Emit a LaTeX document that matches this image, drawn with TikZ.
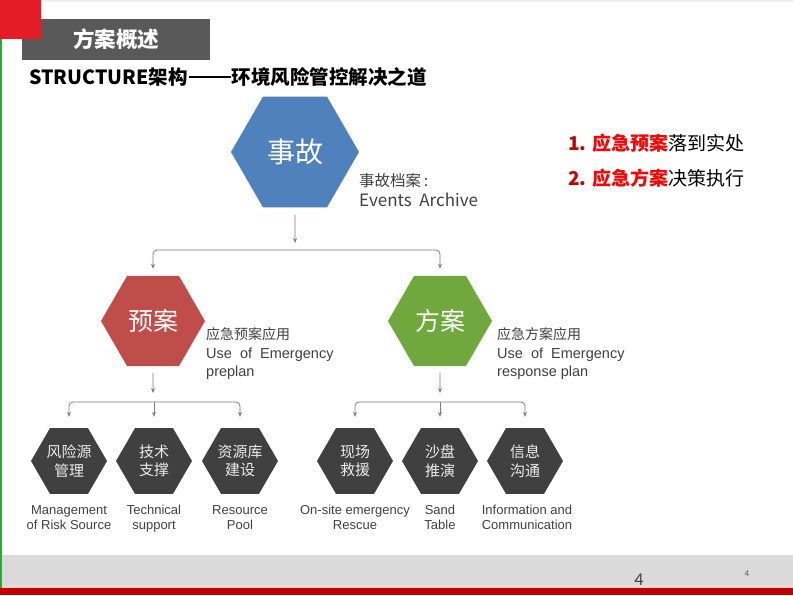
\documentclass[tikz,border=0pt]{standalone}
\usepackage{fontspec}
\setmainfont{Noto Sans CJK SC}
\newfontfamily\arial{Liberation Sans}
\newfontfamily\calibri{Carlito}
\usetikzlibrary{shapes.geometric,arrows.meta,calc}
\definecolor{hexblue}{HTML}{4F81BD}
\definecolor{hexred}{HTML}{BF4E4B}
\definecolor{hexgreen}{HTML}{70A83D}
\definecolor{hexgray}{HTML}{404040}
\definecolor{titlegray}{HTML}{595959}
\definecolor{slidered}{HTML}{E31C25}
\definecolor{slidegreen}{HTML}{1DB32E}
\definecolor{footgray}{HTML}{DADADA}
\definecolor{footpink}{HTML}{F2D6D6}
\definecolor{footred}{HTML}{C00000}
\definecolor{txtgray}{HTML}{404040}
\definecolor{conngray}{HTML}{7F7F7F}
\definecolor{darkred}{HTML}{C00000}
\definecolor{brightred}{HTML}{FF0000}
\tikzset{
  hexbase/.style={regular polygon, regular polygon sides=6, inner sep=0pt, draw=none, text=white},
  bighex/.style={hexbase, minimum size=128pt, fill=hexblue, font=\fontsize{28}{28}\selectfont},
  midhex/.style={hexbase, minimum size=104pt, font=\fontsize{25}{25}\selectfont},
  smallhex/.style={hexbase, minimum size=76pt, fill=hexgray},
  hextxt/.style={align=center, text=white!92!black, inner sep=0pt,
    font=\fontsize{15}{18.5}\selectfont},
  conn/.style={draw=conngray, line width=0.8pt},
  tip/.style={-{Stealth[length=5pt,width=4pt]}},
  tips/.style={{Stealth[length=5pt,width=4pt]}-{Stealth[length=5pt,width=4pt]}},
  desc/.style={anchor=west, align=left, text=txtgray, inner sep=0pt},
  botlbl/.style={anchor=north, align=center, text=txtgray, inner sep=0pt, font=\arial\fontsize{13}{15}\selectfont},
}
\begin{document}
\begin{tikzpicture}[x=1pt,y=-1pt]
\useasboundingbox (0,0) rectangle (793,595);
\fill[white] (0,0) rectangle (793,595);
% slide frame
\fill[gray!12] (41,0) rectangle (793,1.5);
\node (title) [fill=titlegray, minimum width=188pt, minimum height=41pt, inner sep=0pt,
  text=white, font=\bfseries\fontsize{21.5}{22}\selectfont] at (116,39.5) {方案概述};
\fill[slidered] (0,0) rectangle (41,39);
\fill[footgray] (0,555) rectangle (793,585);
\fill[footpink] (0,585) rectangle (793,588);
\fill[footred] (0,588) rectangle (793,595);
\fill[slidegreen] (0,39) rectangle (2,588);
\node (pagenum) [text=txtgray, font=\calibri\fontsize{18}{18}\selectfont, inner sep=0pt] at (639,580) {4};
\node (pagesmall) [text=titlegray, font=\calibri\fontsize{9}{9}\selectfont, inner sep=0pt] at (747,574) {4};
% subtitle
\node (sub) [anchor=west, inner sep=0pt, font=\bfseries\fontsize{19.5}{20}\selectfont] at (29,77)
  {STRUCTURE架构\hspace{1pt}\rule[6.5pt]{42pt}{1.6pt}\hspace{1pt}环境风险管控解决之道};
% right notes
\node (note1) [anchor=west, inner sep=0pt, font=\fontsize{19}{19}\selectfont] at (568,143)
  {\textcolor{darkred}{\bfseries 1.} \textcolor{brightred}{\bfseries 应急预案}落到实处};
\node (note2) [anchor=west, inner sep=0pt, font=\fontsize{19}{19}\selectfont] at (568,178)
  {\textcolor{darkred}{\bfseries 2.} \textcolor{brightred}{\bfseries 应急方案}决策执行};
% hexagons
\node (shigu) [bighex] at (295,152) {事故};
\node (yuan) [midhex, fill=hexred] at (153,321) {预案};
\node (fangan) [midhex, fill=hexgreen] at (440,321) {方案};
\node (a1) [smallhex, label={[hextxt]center:风险源\\管理}] at (69,461) {};
\node (a2) [smallhex, label={[hextxt]center:技术\\支撑}] at (154,461) {};
\node (a3) [smallhex, label={[hextxt]center:资源库\\建设}] at (240,461) {};
\node (b1) [smallhex, label={[hextxt]center:现场\\救援}] at (355,461) {};
\node (b2) [smallhex, label={[hextxt]center:沙盘\\推演}] at (440,461) {};
\node (b3) [smallhex, label={[hextxt]center:信息\\沟通}] at (525,461) {};
% descriptions
\node (dshigu) [desc, font=\fontsize{17}{20}\selectfont] at (359,190)
  {{\fontsize{15.5}{20}\selectfont 事故档案\,:}\\Events\ \ Archive};
\node (dyuan) [desc, font=\arial\fontsize{14.5}{18.5}\selectfont] at (206,354)
  {{\rmfamily\fontsize{14}{18.5}\selectfont 应急预案应用}\\Use\ \ of\ \ Emergency\\preplan};
\node (dfangan) [desc, font=\arial\fontsize{14.5}{18.5}\selectfont] at (497,354)
  {{\rmfamily\fontsize{14}{18.5}\selectfont 应急方案应用}\\Use\ \ of\ \ Emergency\\response plan};
\node (la1) [botlbl] at (69,503.5) {\strut Management\\of Risk Source};
\node (la2) [botlbl] at (154,503.5) {\strut Technical\\support};
\node (la3) [botlbl] at (240,503.5) {\strut Resource\\Pool};
\node (lb1) [botlbl] at (355,503.5) {\strut On-site emergency\\Rescue};
\node (lb2) [botlbl] at (440,503.5) {\strut Sand\\Table};
\node (lb3) [botlbl] at (527,503.5) {\strut Information and\\Communication};
% connectors
\coordinate (j0) at (295,243);
\coordinate (bar0) at (295,250);
\draw[conn, tip, shorten <=7pt] (shigu.south) -- (j0);
\draw[conn, tips, rounded corners=4pt, shorten <=7pt, shorten >=7pt] (yuan.north) |- (bar0) -| (fangan.north);
\coordinate (j1) at (153,393);
\coordinate (bar1) at (154,402);
\draw[conn, tip, shorten <=7pt] (yuan.south) -- (j1);
\draw[conn, tips, rounded corners=4pt, shorten <=11pt, shorten >=11pt] (a1.north) |- (bar1) -| (a3.north);
\draw[conn, tip, shorten >=11pt] (bar1) -- (a2.north);
\coordinate (j2) at (440,393);
\coordinate (bar2) at (440,402);
\draw[conn, tip, shorten <=7pt] (fangan.south) -- (j2);
\draw[conn, tips, rounded corners=4pt, shorten <=11pt, shorten >=11pt] (b1.north) |- (bar2) -| (b3.north);
\draw[conn, tip, shorten >=11pt] (bar2) -- (b2.north);
\end{tikzpicture}
\end{document}
